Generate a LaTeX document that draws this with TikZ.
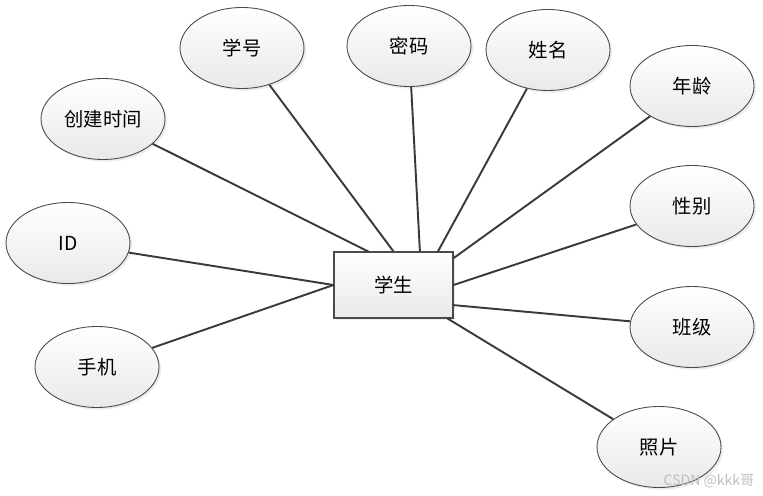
\documentclass[tikz,border=0pt]{standalone}
\usepackage{fontspec}
\newfontfamily\cjk{Noto Sans CJK SC}
\usepackage{xcolor}
\definecolor{rim}{HTML}{4A4A4A}
\definecolor{wire}{HTML}{3A3A3A}
\definecolor{mist}{HTML}{E9E9E9}
\usepackage{tikz}
\usetikzlibrary{calc,shapes.geometric,shadows}
\tikzset{
  attr/.style={ellipse, draw=rim, line width=0.5pt, top color=white, bottom color=mist,
    minimum width=2.48cm, minimum height=1.62cm, inner sep=0pt, font=\cjk\fontsize{11}{13}\selectfont,
    drop shadow={opacity=0.15, shadow xshift=1.2pt, shadow yshift=-1.2pt}},
  entity/.style={rectangle, draw=rim, line width=0.6pt, top color=white, bottom color=mist,
    minimum width=2.38cm, minimum height=1.32cm, inner sep=0pt, font=\cjk\fontsize{11}{13}\selectfont,
    drop shadow={opacity=0.15, shadow xshift=1.2pt, shadow yshift=-1.2pt}},
  link/.style={wire, line width=1.1pt},
}
\begin{document}
\begin{tikzpicture}[x=0.02cm, y=-0.02cm]
  \useasboundingbox (0,0) rectangle (763,496);
  \node[entity] (stu) at (393.5,285) {学生};
  \node[attr] (xh) at (242,48) {学号};
  \node[attr] (mm) at (409,46) {密码};
  \node[attr] (xm) at (548,50) {姓名};
  \node[attr] (nl) at (692,86) {年龄};
  \node[attr] (cj) at (103,119) {创建时间};
  \node[attr] (xb) at (692,206) {性别};
  \node[attr] (id) at (68,243) {ID};
  \node[attr] (bj) at (692,327) {班级};
  \node[attr] (sj) at (97,367) {手机};
  \node[attr] (zp) at (659,447) {照片};
  % end points on the entity box
  \coordinate (pcj) at ($(stu.north west)!0.29!(stu.north east)$);
  \coordinate (pmm) at ($(stu.north west)!0.72!(stu.north east)$);
  \coordinate (pxm) at ($(stu.north west)!0.87!(stu.north east)$);
  \coordinate (pnl) at ($(stu.north east)!0.10!(stu.south east)$);
  \coordinate (pbj) at ($(stu.north east)!0.80!(stu.south east)$);
  \coordinate (pzp) at ($(stu.south west)!0.95!(stu.south east)$);
  \draw[link] (cj) -- (pcj);
  \draw[link] (xh) -- (stu.north);
  \draw[link] (mm) -- (pmm);
  \draw[link] (xm) -- (pxm);
  \draw[link] (nl) -- (pnl);
  \draw[link] (xb) -- (stu.east);
  \draw[link] (bj) -- (pbj);
  \draw[link] (zp) -- (pzp);
  \draw[link] (id) -- (stu.west);
  \draw[link] (sj) -- (stu.west);
  \node[font=\cjk\fontsize{8}{10}\selectfont, text=black!25] (wm) at (709,481) {CSDN @kkk哥};
\end{tikzpicture}
\end{document}
